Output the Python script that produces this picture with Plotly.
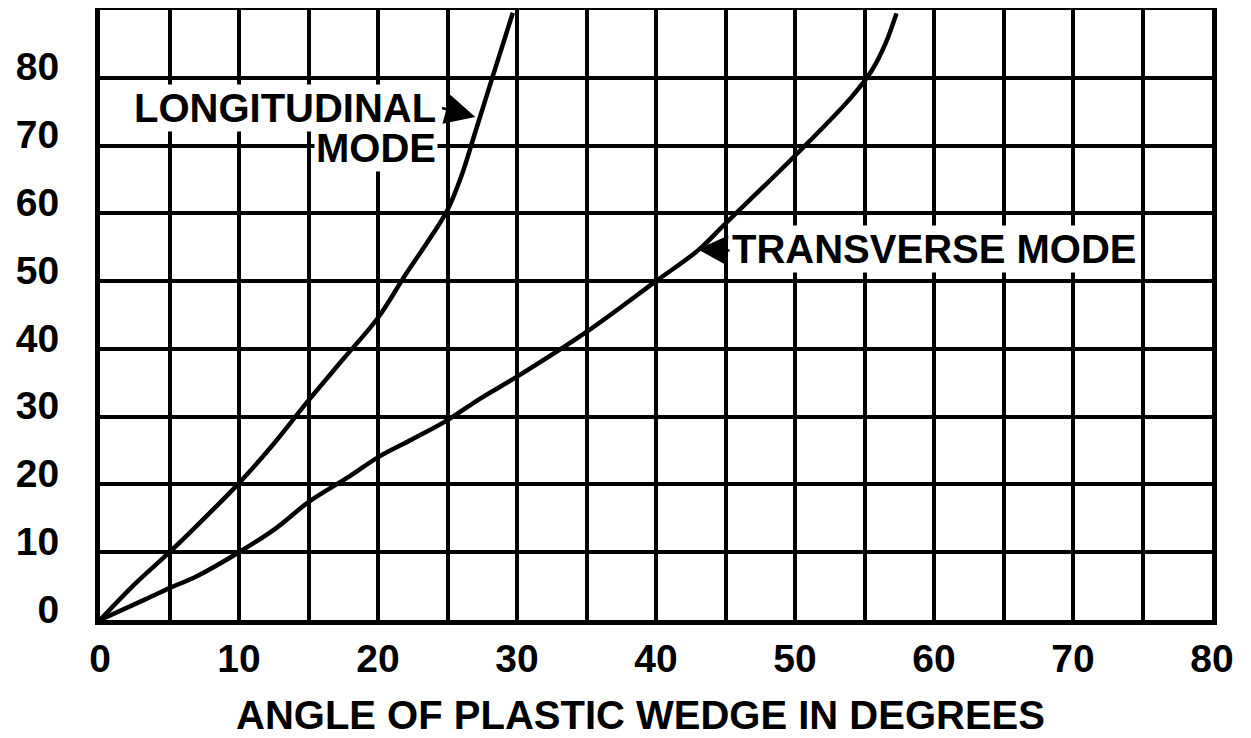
import plotly.graph_objects as go

# Data
long_x = [0, 2.5, 5.0, 7.5, 10.0, 12.5, 15.0, 17.5, 20.0, 22.0, 23.8, 25.0, 26.0, 27.0, 28.3, 29.7]
long_y = [0, 5.3, 10.0, 15.0, 20.2, 26.0, 32.4, 38.5, 44.6, 51.0, 56.5, 60.5, 65.5, 72.0, 80.5, 89.6]

trans_x = [0, 3.1, 5.0, 7.0, 10.0, 12.7, 15.0, 17.8, 20.0, 22.5, 25.0, 27.3, 30.0, 35.0, 40.0, 43.0, 45.0, 50.0, 54.0, 55.5, 56.5, 57.3]
trans_y = [0, 2.9, 4.7, 6.5, 10.0, 13.6, 17.4, 21.0, 24.0, 26.7, 29.5, 32.6, 35.9, 42.5, 50.0, 54.5, 58.5, 68.5, 77.0, 81.0, 85.0, 89.5]

x_ticks = [0, 10, 20, 30, 40, 50, 60, 70, 80]
y_ticks = [0, 10, 20, 30, 40, 50, 60, 70, 80]

x_title = "ANGLE OF PLASTIC WEDGE IN DEGREES"
label_long_1 = "LONGITUDINAL"
label_long_2 = "MODE"
label_trans = "TRANSVERSE MODE"

FONT = "Liberation Sans, Arial, sans-serif"
BLACK = "black"
TXT = dict(family=FONT, size=39, color=BLACK, weight="bold")
LBL = dict(family=FONT, size=40, color=BLACK, weight="bold")

fig = go.Figure()
for xs, ys in ((long_x, long_y), (trans_x, trans_y)):
    fig.add_trace(go.Scatter(x=xs, y=ys, mode="lines",
                             line=dict(color=BLACK, width=4.5, shape="spline", smoothing=1.0),
                             showlegend=False, hoverinfo="skip"))

annotations = [
    dict(x=24.3, y=75.5, xref="x", yref="y", text=label_long_1, showarrow=False,
         xanchor="right", yanchor="middle", bgcolor="white", borderpad=1, font=LBL),
    dict(x=24.3, y=69.6, xref="x", yref="y", text=label_long_2, showarrow=False,
         xanchor="right", yanchor="middle", bgcolor="white", borderpad=1, font=LBL),
    dict(x=45.3, y=54.8, xref="x", yref="y", text=label_trans, showarrow=False,
         xanchor="left", yanchor="middle", bgcolor="white", borderpad=1, font=LBL),
    # arrows
    dict(x=27.0, y=74.2, ax=24.5, ay=75.6, xref="x", yref="y", axref="x", ayref="y",
         text="", showarrow=True, arrowhead=2, arrowsize=2.4, arrowwidth=2.5, arrowcolor=BLACK),
    dict(x=43.0, y=54.7, ax=45.4, ay=54.5, xref="x", yref="y", axref="x", ayref="y",
         text="", showarrow=True, arrowhead=2, arrowsize=2.4, arrowwidth=2.5, arrowcolor=BLACK),
    # x-axis title, placed under the tick labels
    dict(x=38.9, y=0, xref="x", yref="paper", text=x_title, showarrow=False,
         xanchor="center", yanchor="middle", yshift=-95, font=LBL),
]

# The page body has an 8px margin, so the figure is sized and offset to compensate.
fig.update_layout(
    width=1243, height=730,
    margin=dict(l=92, r=39, t=2, b=118),
    paper_bgcolor="white", plot_bgcolor="white",
    font=TXT,
    annotations=annotations,
    xaxis=dict(
        range=[0, 80], tickvals=x_ticks, ticktext=[str(v) for v in x_ticks],
        showgrid=True, gridcolor=BLACK, gridwidth=4,
        minor=dict(dtick=5, showgrid=True, gridcolor=BLACK, gridwidth=4),
        showline=True, linecolor=BLACK, linewidth=5, mirror=True,
        ticks="", zeroline=False, ticklabelstandoff=0, automargin=False,
        tickfont=TXT,
    ),
    yaxis=dict(
        range=[0, 90], tickvals=y_ticks, ticktext=[str(v) for v in y_ticks],
        showgrid=True, gridcolor=BLACK, gridwidth=4,
        showline=True, linecolor=BLACK, linewidth=5, mirror=True,
        ticks="", zeroline=False, automargin=False,
        ticklabelstandoff=28, ticklabelshift=-11,
        tickfont=TXT,
    ),
)

fig.write_html("out.html")
